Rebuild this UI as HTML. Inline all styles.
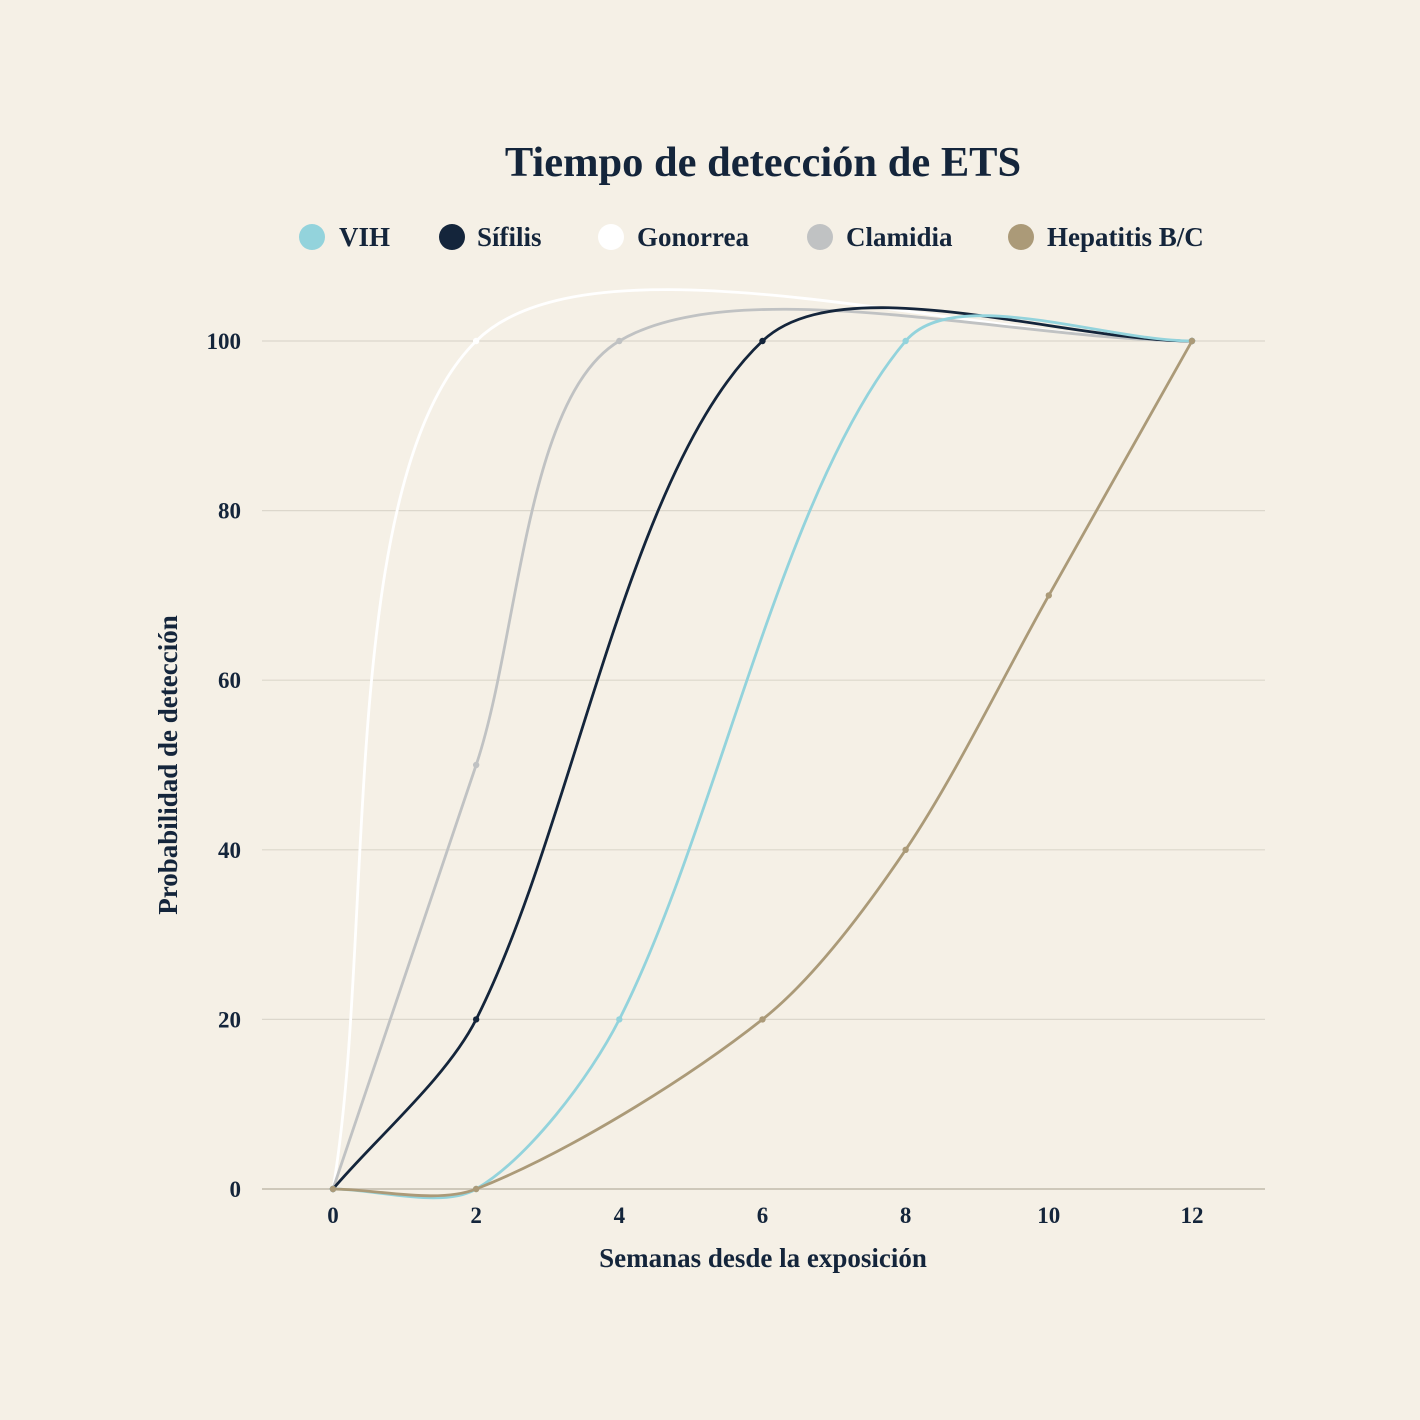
<!DOCTYPE html>
<html><head><meta charset="utf-8">
<style>
html,body{margin:0;padding:0;background:#f5f0e6;}
svg{display:block;}
text{font-family:"Liberation Serif",serif;font-weight:bold;fill:#14253b;}
</style></head><body>
<svg id="s" width="1420" height="1420" viewBox="0 0 1420 1420">
<rect width="1420" height="1420" fill="#f5f0e6"/>
<text x="763" y="176" font-size="42.5" text-anchor="middle">Tiempo de detección de ETS</text>
<g font-size="27">
<circle cx="312" cy="237" r="13" fill="#93d3dc"/><text x="339" y="246">VIH</text>
<circle cx="452" cy="237" r="13" fill="#14253b"/><text x="477" y="246">Sífilis</text>
<circle cx="611" cy="237" r="13" fill="#ffffff"/><text x="637" y="246">Gonorrea</text>
<circle cx="820" cy="237" r="13" fill="#c0c2c3"/><text x="846" y="246">Clamidia</text>
<circle cx="1021" cy="237" r="13" fill="#ab9a78"/><text x="1047" y="246">Hepatitis B/C</text>
</g>
<g id="grid" stroke="#dcd7cc" stroke-width="1.2"></g>
<g id="ticks" font-size="23"></g>
<text x="763" y="1267" font-size="27" text-anchor="middle">Semanas desde la exposición</text>
<text transform="translate(177,765) rotate(-90)" font-size="27" text-anchor="middle">Probabilidad de detección</text>
<g id="series" fill="none" stroke-width="2.8"></g>
</svg>
<script>
var X=function(v){return 333+v*71.58;},Y=function(v){return 1189-v*8.48;};
var ns="http://www.w3.org/2000/svg";
function el(t,a,p){var e=document.createElementNS(ns,t);for(var k in a)e.setAttribute(k,a[k]);document.getElementById(p).appendChild(e);return e;}
for(var v=0;v<=100;v+=20){el('line',{x1:262,x2:1265,y1:Y(v),y2:Y(v),stroke:v==0?'#c9c2b4':'#dcd7cc','stroke-width':v==0?1.8:1.2},'grid');
var t=el('text',{x:241,y:Y(v)+8,'text-anchor':'end'},'ticks');t.textContent=v;}
for(var w=0;w<=12;w+=2){var t=el('text',{x:X(w),y:1223,'text-anchor':'middle'},'ticks');t.textContent=w;}
var data=[
['#ab9a78',[[0,0],[2,0],[6,20],[8,40],[10,70],[12,100]]],
['#93d3dc',[[0,0],[2,0],[4,20],[8,100],[12,100]]],
['#14253b',[[0,0],[2,20],[6,100],[12,100]]],
['#c0c2c3',[[0,0],[2,50],[4,100],[12,100]]],
['#ffffff',[[0,0],[2,100],[12,100]]]
];
data.reverse();
data.forEach(function(d){
var p=d[1].map(function(q){return [X(q[0]),Y(q[1])];});var n=p.length,T=0.3,cp=[];
for(var i=0;i<n;i++){var a=p[i-1]||p[i],b=p[i],c=p[i+1]||p[i];
var d01=Math.hypot(b[0]-a[0],b[1]-a[1]),d12=Math.hypot(c[0]-b[0],c[1]-b[1]);
var s01=d01/(d01+d12)||0,s12=d12/(d01+d12)||0;var fa=T*s01,fb=T*s12;
cp.push([[b[0]-fa*(c[0]-a[0]),b[1]-fa*(c[1]-a[1])],[b[0]+fb*(c[0]-a[0]),b[1]+fb*(c[1]-a[1])]]);}
var s='M'+p[0][0]+' '+p[0][1];
for(var i=1;i<n;i++){s+=' C'+cp[i-1][1][0]+' '+cp[i-1][1][1]+' '+cp[i][0][0]+' '+cp[i][0][1]+' '+p[i][0]+' '+p[i][1];}
el('path',{d:s,stroke:d[0]},'series');
p.forEach(function(q){el('circle',{cx:q[0],cy:q[1],r:3.2,fill:d[0],stroke:'none'},'series');});
});
</script>
</body></html>
